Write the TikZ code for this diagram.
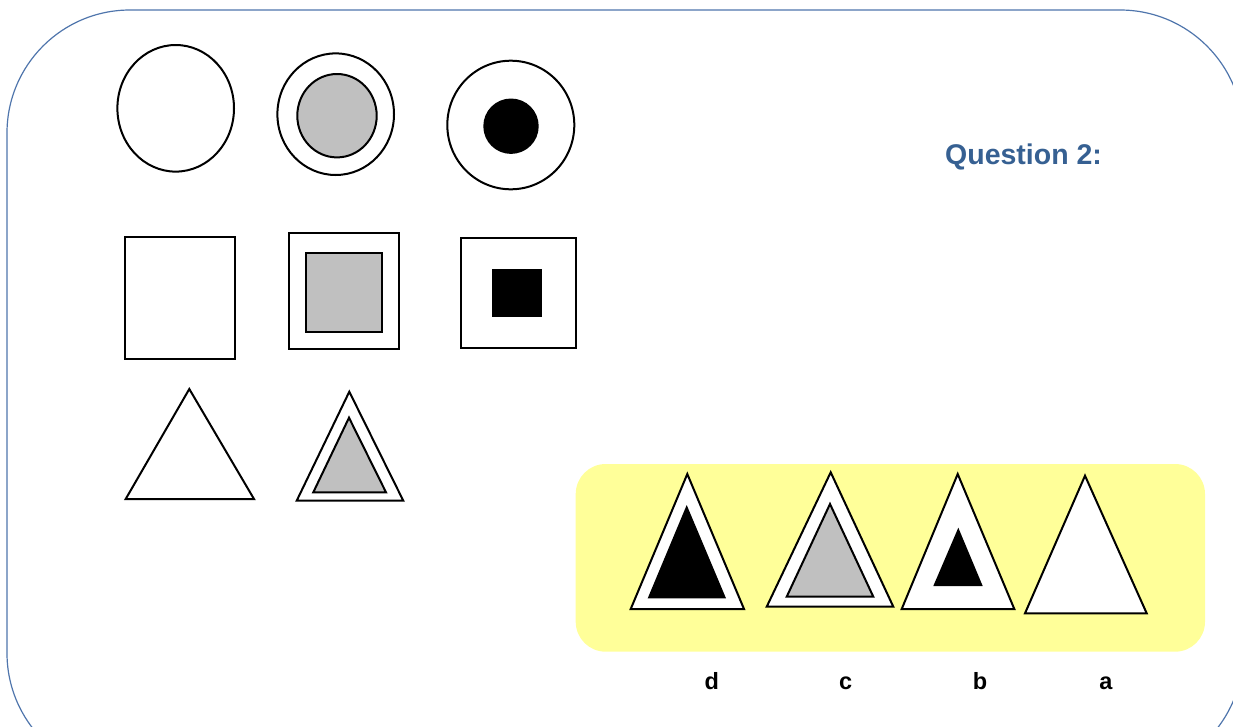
\documentclass[tikz,border=0pt]{standalone}
\usepackage{fontspec}
\setmainfont{Liberation Sans}
\definecolor{framecol}{RGB}{79,117,172}
\definecolor{qblue}{RGB}{54,96,146}
\definecolor{shade}{RGB}{192,192,192}
\definecolor{pale}{RGB}{255,255,153}
\begin{document}
\begin{tikzpicture}[x=1pt,y=-1pt,
  outline/.style={draw=black,line width=2pt,line join=miter,fill=white},
  grayfig/.style={draw=black,line width=2pt,line join=miter,fill=shade},
  blackfig/.style={fill=black},
  lbl/.style={inner sep=0pt,anchor=base,font=\fontsize{23.5}{27}\selectfont\bfseries},
  qtext/.style={inner sep=0pt,anchor=base west,text=qblue,font=\fontsize{28.5}{32}\selectfont\bfseries}]
\useasboundingbox (0,0) rectangle (1233,726);
\clip (0,0) rectangle (1233,726);
% outer frame
\draw[framecol,line width=1.2pt,rounded corners=123pt] (7,10) rectangle (1243,776);
% circles
\draw[outline] (175.7,108.3) ellipse [x radius=58.3pt,y radius=63.3pt];
\draw[outline] (335.7,114.2) ellipse [x radius=58.3pt,y radius=60.8pt];
\draw[grayfig] (337,115.7) ellipse [x radius=39.7pt,y radius=41.7pt];
\draw[outline] (510.8,125) ellipse [x radius=63.5pt,y radius=64.3pt];
\fill[blackfig] (511,126.2) circle [radius=27.7pt];
% squares
\draw[outline] (125,237.3) rectangle (235.3,359.3);
\draw[outline] (289,233.3) rectangle (399.3,349.3);
\draw[grayfig] (306,252.7) rectangle (381.7,332.3);
\draw[outline] (461,237.7) rectangle (576,348.3);
\fill[blackfig] (492.3,269) rectangle (542.3,317.3);
% triangles (left)
\draw[outline] (189.3,389) -- (254,499) -- (125.7,499) -- cycle;
\draw[outline] (349.3,391.7) -- (403.3,500.7) -- (296.7,500.7) -- cycle;
\draw[grayfig] (349,417.7) -- (386,492.3) -- (313.3,492.3) -- cycle;
% answer panel
\fill[pale,rounded corners=30pt] (575.7,464) rectangle (1205,651.7);
% d
\draw[outline] (687.3,474) -- (744,609) -- (630.7,609) -- cycle;
\fill[blackfig] (686.7,505) -- (726,598.3) -- (647.7,598.3) -- cycle;
% c
\draw[outline] (830.7,472.3) -- (893.3,606.7) -- (766.7,606.7) -- cycle;
\draw[grayfig] (830,504) -- (873.3,596.7) -- (786.7,596.7) -- cycle;
% b
\draw[outline] (957.7,474) -- (1014.3,609) -- (901.7,609) -- cycle;
\fill[blackfig] (958.3,527.7) -- (982.7,586) -- (933.3,586) -- cycle;
% a
\draw[outline] (1085,475.7) -- (1146.7,613.3) -- (1025,613.3) -- cycle;
% texts
\node[qtext] (q) at (945,164.3) {Question 2:};
\node[lbl] (ld) at (711.7,689) {d};
\node[lbl] (lc) at (845.7,689) {c};
\node[lbl] (lb) at (980,689) {b};
\node[lbl] (la) at (1106,689) {a};
\end{tikzpicture}
\end{document}
